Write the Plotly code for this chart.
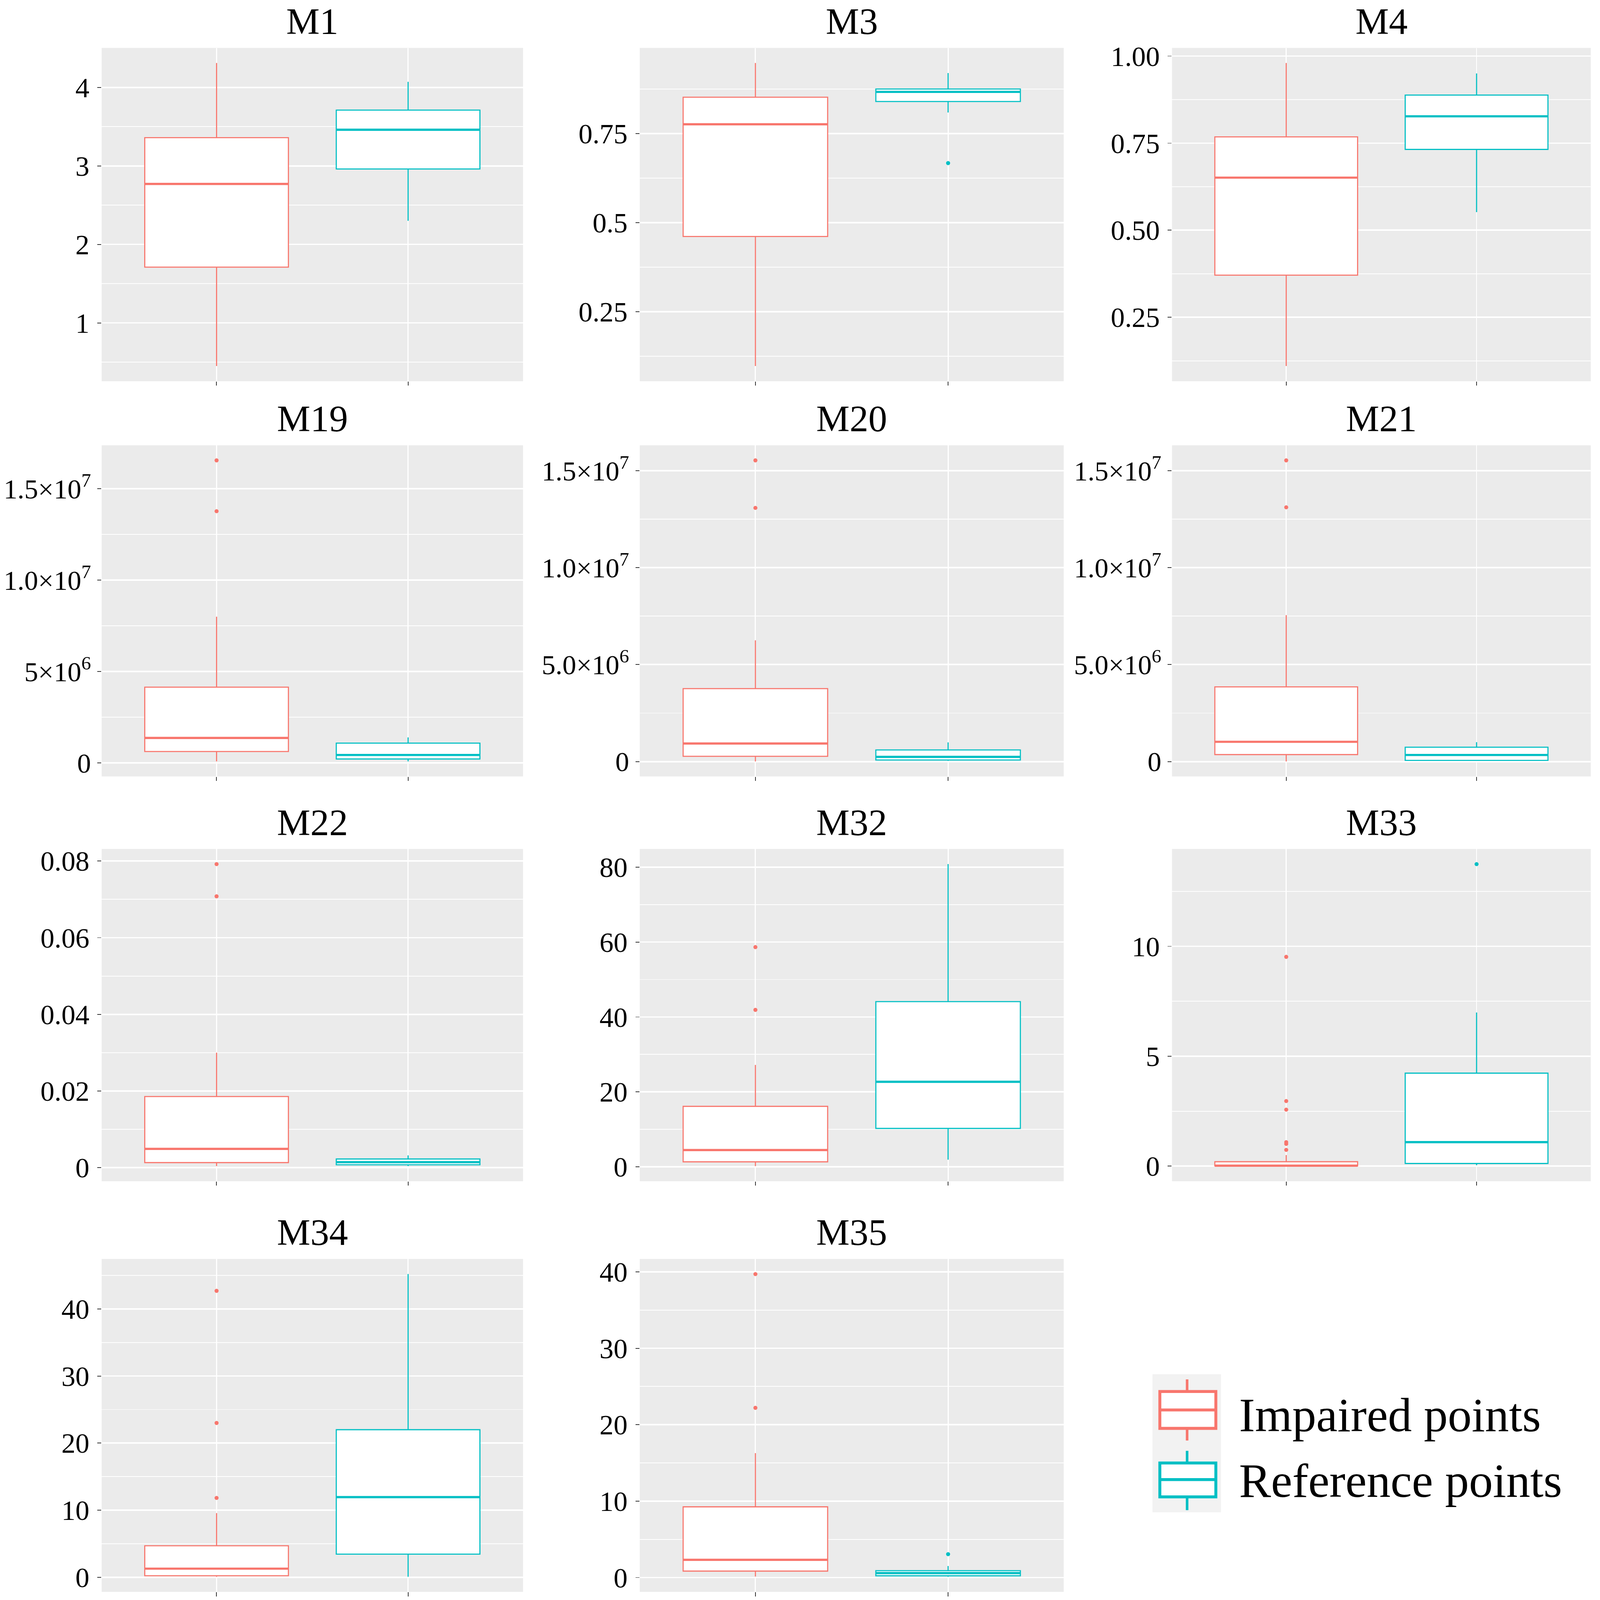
import plotly.graph_objects as go

W, H = 4328, 4344

panels = ["M1", "M3", "M4", "M19", "M20", "M21", "M22", "M32", "M33", "M34", "M35"]
groups = ["Impaired points", "Reference points"]
colors = ["#F8766D", "#00BFC4"]

# box statistics (lower whisker, Q1, median, Q3, upper whisker)
imp_lo = [0.45, 0.097, 0.110, 0.09e6, 0.01e6, 0.01e6, 0.0004, 0.2, 0.0, 0.07, 0.13]
imp_q1 = [1.71, 0.461, 0.371, 0.63e6, 0.27e6, 0.36e6, 0.00132, 1.35, 0.01, 0.22, 0.84]
imp_med = [2.77, 0.776, 0.651, 1.37e6, 0.93e6, 1.02e6, 0.00489, 4.49, 0.02, 1.28, 2.32]
imp_q3 = [3.36, 0.852, 0.768, 4.15e6, 3.76e6, 3.85e6, 0.01856, 16.15, 0.20, 4.69, 9.25]
imp_hi = [4.31, 0.948, 0.980, 8.0e6, 6.25e6, 7.55e6, 0.0300, 27.2, 0.50, 9.56, 16.28]
imp_out = [[], [], [], [1.377e7, 1.655e7], [1.308e7, 1.553e7], [1.311e7, 1.553e7],
           [0.0708, 0.0792], [41.9, 58.65], [0.74, 1.01, 1.09, 2.57, 2.96, 9.52],
           [11.83, 23.0, 42.7], [22.21, 39.71]]

ref_lo = [2.30, 0.809, 0.552, 0.09e6, 0.04e6, 0.05e6, 0.0004, 1.92, 0.04, 0.07, 0.10]
ref_q1 = [2.96, 0.840, 0.732, 0.22e6, 0.08e6, 0.06e6, 0.00075, 10.26, 0.12, 3.44, 0.23]
ref_med = [3.46, 0.867, 0.827, 0.44e6, 0.24e6, 0.34e6, 0.00144, 22.7, 1.09, 11.94, 0.58]
ref_q3 = [3.71, 0.875, 0.888, 1.09e6, 0.60e6, 0.74e6, 0.00226, 44.1, 4.23, 22.0, 0.90]
ref_hi = [4.07, 0.920, 0.950, 1.40e6, 0.99e6, 1.0e6, 0.0032, 80.8, 6.99, 45.2, 1.51]
ref_out = [[], [0.667], [], [], [], [], [], [], [13.74], [], [3.06]]

# y tick values / labels per panel
tick_vals = [
    [1, 2, 3, 4],
    [0.25, 0.5, 0.75],
    [0.25, 0.5, 0.75, 1.0],
    [0, 5e6, 1e7, 1.5e7],
    [0, 5e6, 1e7, 1.5e7],
    [0, 5e6, 1e7, 1.5e7],
    [0, 0.02, 0.04, 0.06, 0.08],
    [0, 20, 40, 60, 80],
    [0, 5, 10],
    [0, 10, 20, 30, 40],
    [0, 10, 20, 30, 40],
]
tick_text = [
    ["1", "2", "3", "4"],
    ["0.25", "0.5", "0.75"],
    ["0.25", "0.50", "0.75", "1.00"],
    ["0", "5×10<sup>6</sup>", "1.0×10<sup>7</sup>", "1.5×10<sup>7</sup>"],
    ["0", "5.0×10<sup>6</sup>", "1.0×10<sup>7</sup>", "1.5×10<sup>7</sup>"],
    ["0", "5.0×10<sup>6</sup>", "1.0×10<sup>7</sup>", "1.5×10<sup>7</sup>"],
    ["0", "0.02", "0.04", "0.06", "0.08"],
    ["0", "20", "40", "60", "80"],
    ["0", "5", "10"],
    ["0", "10", "20", "30", "40"],
    ["0", "10", "20", "30", "40"],
]

FONT = "Liberation Serif"
BG = "#EBEBEB"
BOX_W = 0.75

# panel positions in pixels
col_px = [(276, 1420), (1737, 2888), (3182, 4319)]
row_px = [(130, 1035), (1209, 2108), (2305, 3207), (3418, 4322)]

fig = go.Figure()
annotations = []

for i, name in enumerate(panels):
    r, c = divmod(i, 3)
    ax = "" if i == 0 else str(i + 1)
    xref, yref = "x" + ax, "y" + ax
    x0, x1 = col_px[c]
    y0, y1 = row_px[r]

    stats = [
        (imp_lo[i], imp_q1[i], imp_med[i], imp_q3[i], imp_hi[i], imp_out[i]),
        (ref_lo[i], ref_q1[i], ref_med[i], ref_q3[i], ref_hi[i], ref_out[i]),
    ]
    for g, (lo, q1, med, q3, hi, out) in enumerate(stats):
        fig.add_trace(go.Box(
            x=[g], q1=[q1], median=[med], q3=[q3],
            lowerfence=[lo], upperfence=[hi],
            width=BOX_W, whiskerwidth=0,
            fillcolor="white", line=dict(color=colors[g], width=3),
            boxpoints=False, showlegend=False, hoverinfo="skip",
            xaxis=xref, yaxis=yref,
        ))
        # thicker median, like ggplot
        fig.add_trace(go.Scatter(
            x=[g - BOX_W / 2, g + BOX_W / 2], y=[med, med], mode="lines",
            line=dict(color=colors[g], width=6),
            showlegend=False, hoverinfo="skip", xaxis=xref, yaxis=yref,
        ))
        if out:
            fig.add_trace(go.Scatter(
                x=[g] * len(out), y=out, mode="markers",
                marker=dict(color=colors[g], size=11),
                showlegend=False, hoverinfo="skip", xaxis=xref, yaxis=yref,
            ))

    vals = [imp_lo[i], imp_hi[i], ref_lo[i], ref_hi[i]] + imp_out[i] + ref_out[i]
    lo_v, hi_v = min(vals), max(vals)
    pad = (hi_v - lo_v) * 0.05
    step = tick_vals[i][1] - tick_vals[i][0]
    sci = i in (3, 4, 5)

    fig.layout["xaxis" + ax] = dict(
        domain=[x0 / W, x1 / W], anchor=yref, range=[-0.6, 1.6],
        tickvals=[0, 1], showticklabels=False, ticks="outside", ticklen=11,
        tickwidth=2, tickcolor="#333333", showgrid=True, gridcolor="white",
        gridwidth=3, zeroline=False, showline=False, fixedrange=True,
        automargin=False,
    )
    fig.layout["yaxis" + ax] = dict(
        domain=[1 - y1 / H, 1 - y0 / H], anchor=xref,
        range=[lo_v - pad, hi_v + pad],
        tickvals=tick_vals[i], ticktext=tick_text[i], ticks="outside",
        ticklen=11, tickwidth=2, tickcolor="#333333",
        ticklabelstandoff=2 if sci else 6,
        tickfont=dict(family=FONT, size=75 if sci else 76, color="black"),
        showgrid=True, gridcolor="white", gridwidth=4,
        minor=dict(dtick=step / 2, tick0=0, showgrid=True, gridcolor="white",
                   gridwidth=2, ticks=""),
        zeroline=False, showline=False, fixedrange=True, automargin=False,
    )
    annotations.append(dict(
        text=name, x=(x0 + x1) / 2 / W, y=1 - y0 / H, xref="paper", yref="paper",
        xanchor="center", yanchor="bottom", yshift=14, showarrow=False,
        font=dict(family=FONT, size=102, color="black"),
    ))

# hand-made legend (ggplot boxplot keys)
shapes = []
shapes.append(dict(type="rect", xref="paper", yref="paper", x0=3129 / W,
                   x1=3315 / W, y0=1 - 4106 / H, y1=1 - 3731 / H,
                   fillcolor="#F2F2F2", line=dict(width=0), layer="below"))
key_rows = [(3745, 3778, 3828, 3878, 3911), (3939, 3972, 4017, 4064, 4100)]
for g, (wt, bt, md, bb, wb) in enumerate(key_rows):
    col = colors[g]
    cx = 3223 / W
    shapes.append(dict(type="line", xref="paper", yref="paper", x0=cx, x1=cx,
                       y0=1 - bt / H, y1=1 - wt / H, line=dict(color=col, width=7)))
    shapes.append(dict(type="line", xref="paper", yref="paper", x0=cx, x1=cx,
                       y0=1 - wb / H, y1=1 - bb / H, line=dict(color=col, width=7)))
    shapes.append(dict(type="rect", xref="paper", yref="paper", x0=3149 / W,
                       x1=3301 / W, y0=1 - bb / H, y1=1 - bt / H,
                       fillcolor="white", line=dict(color=col, width=8)))
    shapes.append(dict(type="line", xref="paper", yref="paper", x0=3149 / W,
                       x1=3301 / W, y0=1 - md / H, y1=1 - md / H,
                       line=dict(color=col, width=8)))
    annotations.append(dict(
        text=groups[g], x=3362 / W, y=1 - (3842 if g == 0 else 4020) / H,
        xref="paper", yref="paper", xanchor="left", yanchor="middle",
        showarrow=False, font=dict(family=FONT, size=130, color="black"),
    ))

fig.update_layout(
    width=W, height=H, margin=dict(l=0, r=0, t=0, b=0, autoexpand=False),
    paper_bgcolor="white", plot_bgcolor=BG, showlegend=False,
    annotations=annotations, shapes=shapes,
)

# fit the fixed-size figure into the browser window
fit_js = """
var gd = document.getElementById('{plot_id}');
document.body.style.margin = '0';
document.body.style.overflow = 'hidden';
var s = Math.min(window.innerWidth / %d, window.innerHeight / %d);
if (s < 1) { gd.style.transformOrigin = '0 0'; gd.style.transform = 'scale(' + s + ')'; }
""" % (W, H)

fig.write_html("out.html", post_script=fit_js, config={"displayModeBar": False})
